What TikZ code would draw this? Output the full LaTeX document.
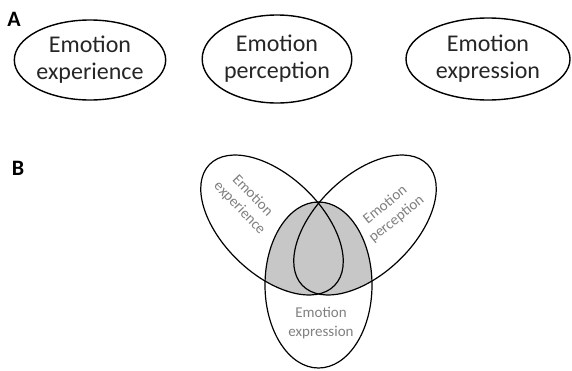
\documentclass[tikz,border=0pt]{standalone}
\usepackage{fontspec}
\setmainfont{Carlito}
\usetikzlibrary{shapes.geometric}
\begin{document}
\begin{tikzpicture}[x=1pt,y=-1pt,
  ovalA/.style={draw, ellipse, line width=1.4pt, inner sep=0pt, align=center,
    text=black!85, font=\fontsize{24}{27}\selectfont},
  vennline/.style={line width=1.2pt},
  vennfill/.style={fill=black!22},
  vtext/.style={align=center, text=black!50, inner sep=0pt, font=\fontsize{15}{19}\selectfont},
  panel/.style={inner sep=0pt, font=\bfseries\fontsize{22}{22}\selectfont}]
\useasboundingbox (0,0) rectangle (572,370);
% Panel A
\node[panel] (labA) at (14,19) {A};
\node[ovalA, minimum width=151pt, minimum height=80pt] (ex) at (90,60) {Emotion\\experience};
\node[ovalA, minimum width=144pt, minimum height=88pt] (pe) at (277,59) {Emotion\\perception};
\node[ovalA, minimum width=164pt, minimum height=82pt] (xp) at (488,59) {Emotion\\expression};
% Panel B
\node[panel] (labB) at (18,168) {B};
\begin{scope}
  \clip (318.5,285) ellipse [x radius=53.5pt, y radius=83pt];
  \fill[vennfill, rotate around={-44:(272,225)}] (272,225) ellipse [x radius=87pt, y radius=49pt];
  \fill[vennfill, rotate around={44:(365,225)}] (365,225) ellipse [x radius=87pt, y radius=49pt];
\end{scope}
\draw[vennline, rotate around={-44:(272,225)}] (272,225) ellipse [x radius=87pt, y radius=49pt];
\draw[vennline, rotate around={44:(365,225)}] (365,225) ellipse [x radius=87pt, y radius=49pt];
\draw[vennline] (318.5,285) ellipse [x radius=53.5pt, y radius=83pt];
\node[vtext, rotate=-46, font=\fontsize{15}{18}\selectfont] (tex) at (246,202) {Emotion\\experience};
\node[vtext, rotate=39, font=\fontsize{15}{18}\selectfont] (tpe) at (391,212) {Emotion\\perception};
\node[vtext] (txp) at (321,323) {Emotion\\expression};
\end{tikzpicture}
\end{document}
